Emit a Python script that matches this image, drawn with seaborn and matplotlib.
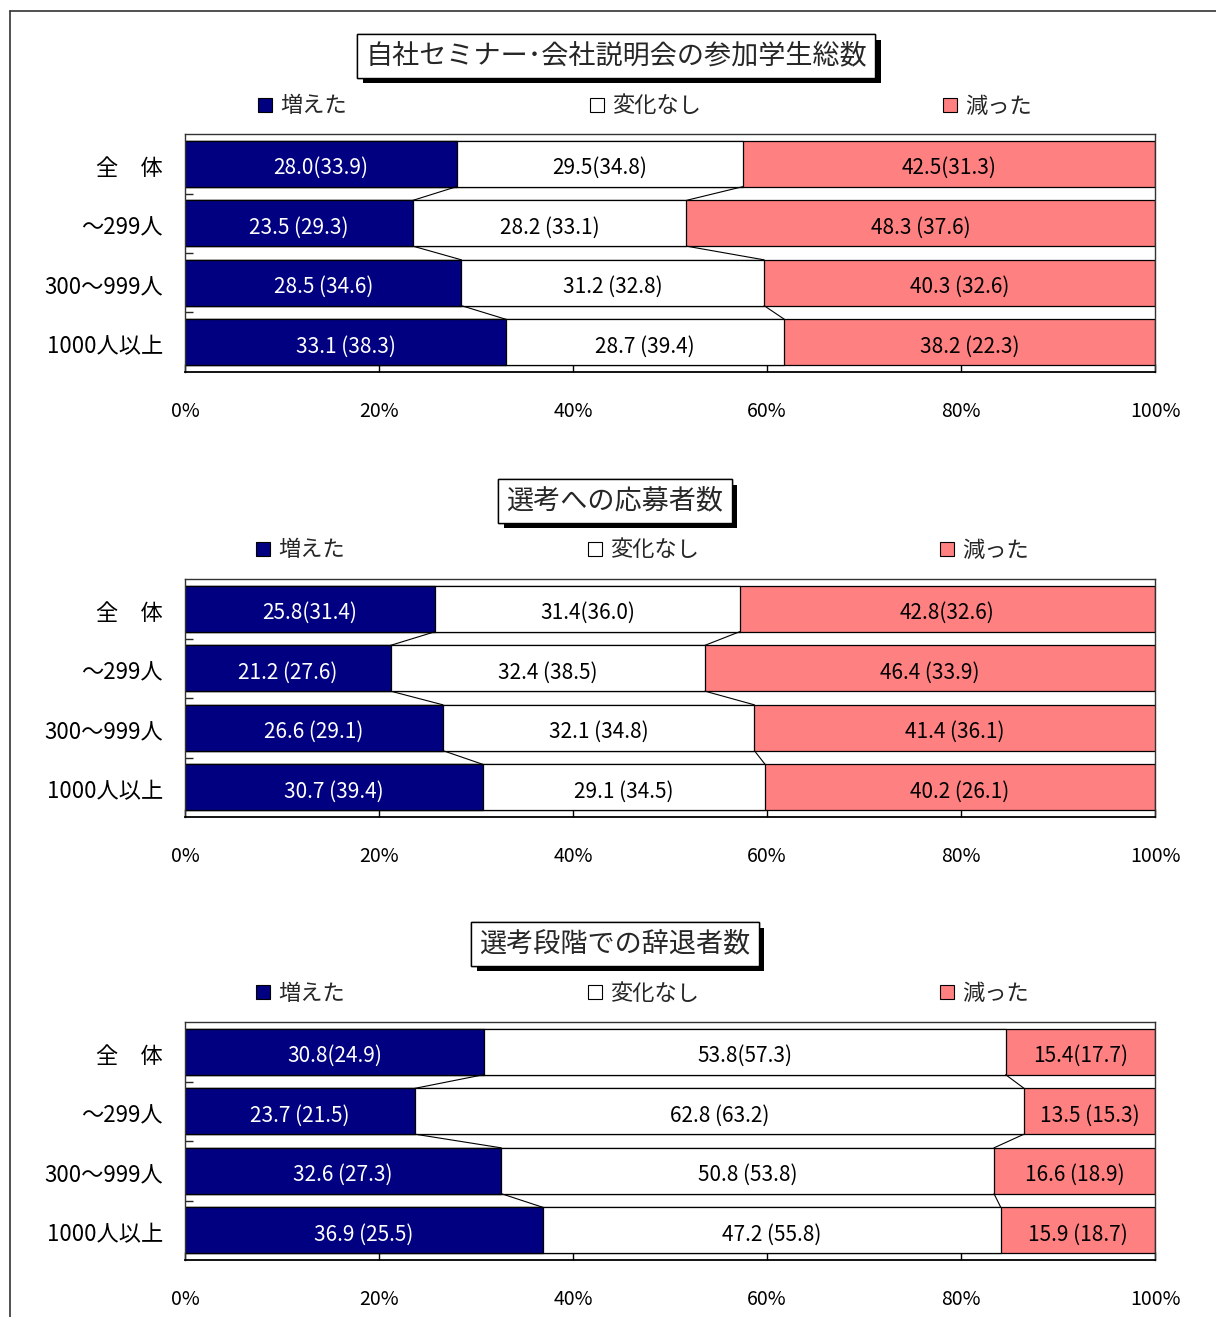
import matplotlib
matplotlib.use("Agg")
import matplotlib.pyplot as plt
import matplotlib.patheffects as pe
from matplotlib.lines import Line2D
from matplotlib.patches import Rectangle
import numpy as np
import pandas as pd
import seaborn as sns

# ---------------------------------------------------------------------------
# Dados
# ---------------------------------------------------------------------------
CATEGORIES = ["全　体", "～299人", "300～999人", "1000人以上"]
SERIES = ["増えた", "変化なし", "減った"]
COLORS = ["#000080", "#FFFFFF", "#FF8080"]
TEXT_COLORS = ["white", "black", "black"]

TITLES = ["自社セミナー･会社説明会の参加学生総数", "選考への応募者数", "選考段階での辞退者数"]

seminar_up = [28.0, 23.5, 28.5, 33.1]
seminar_same = [29.5, 28.2, 31.2, 28.7]
seminar_down = [42.5, 48.3, 40.3, 38.2]
seminar_up_prev = [33.9, 29.3, 34.6, 38.3]
seminar_same_prev = [34.8, 33.1, 32.8, 39.4]
seminar_down_prev = [31.3, 37.6, 32.6, 22.3]

apply_up = [25.8, 21.2, 26.6, 30.7]
apply_same = [31.4, 32.4, 32.1, 29.1]
apply_down = [42.8, 46.4, 41.4, 40.2]
apply_up_prev = [31.4, 27.6, 29.1, 39.4]
apply_same_prev = [36.0, 38.5, 34.8, 34.5]
apply_down_prev = [32.6, 33.9, 36.1, 26.1]

decline_up = [30.8, 23.7, 32.6, 36.9]
decline_same = [53.8, 62.8, 50.8, 47.2]
decline_down = [15.4, 13.5, 16.6, 15.9]
decline_up_prev = [24.9, 21.5, 27.3, 25.5]
decline_same_prev = [57.3, 63.2, 53.8, 55.8]
decline_down_prev = [17.7, 15.3, 18.9, 18.7]

PANELS = [
    ([seminar_up, seminar_same, seminar_down],
     [seminar_up_prev, seminar_same_prev, seminar_down_prev]),
    ([apply_up, apply_same, apply_down],
     [apply_up_prev, apply_same_prev, apply_down_prev]),
    ([decline_up, decline_same, decline_down],
     [decline_up_prev, decline_same_prev, decline_down_prev]),
]

# ---------------------------------------------------------------------------
# Layout (pixels)
# ---------------------------------------------------------------------------
W, H = 1216, 1317
AX_LEFT, AX_RIGHT = 185, 1155
AX_TOPS = [134, 579, 1022]
AX_H = 238
TITLE_Y = [56, 501, 944]
TITLE_X = [616, 615, 615]
LEGEND_Y = [106, 550, 993]
LEGEND_X = [[258, 590, 943], [256, 588, 940], [256, 588, 940]]
BAR_W = 0.77

sns.set_theme(style="white")
plt.rcParams["font.family"] = ["Noto Sans CJK JP", "DejaVu Sans"]

fig = plt.figure(figsize=(W / 100, H / 100), dpi=100)


def fx(px):
    return px / W


def fy(py):
    return 1 - py / H


def draw_panel(idx, values, prev):
    top = AX_TOPS[idx]
    ax = fig.add_axes([fx(AX_LEFT), fy(top + AX_H), fx(AX_RIGHT - AX_LEFT), AX_H / H])

    vals = np.array(values)
    cum = np.cumsum(vals, axis=0)
    df = pd.DataFrame({"category": CATEGORIES,
                       "c1": cum[0], "c2": cum[1], "c3": cum[2]})

    # stacked bars: draw cumulative totals from the longest to the shortest
    for col, color in zip(["c3", "c2", "c1"], COLORS[::-1]):
        sns.barplot(data=df, x=col, y="category", order=CATEGORIES, orient="h",
                    color=color, saturation=1, edgecolor="black", linewidth=0.9,
                    width=BAR_W, errorbar=None, ax=ax)

    # series lines
    for k in range(2):
        for i in range(len(CATEGORIES) - 1):
            ax.plot([cum[k][i], cum[k][i + 1]],
                    [i + BAR_W / 2, i + 1 - BAR_W / 2],
                    color="black", linewidth=0.8)

    # labels
    starts = np.vstack([np.zeros(len(CATEGORIES)), cum[:-1]])
    for s in range(3):
        for i in range(len(CATEGORIES)):
            sep = "" if i == 0 else " "
            ax.text(starts[s][i] + vals[s][i] / 2, i + 0.07,
                    f"{vals[s][i]:.1f}{sep}({prev[s][i]:.1f})",
                    ha="center", va="center", fontsize=15, color=TEXT_COLORS[s])

    ax.set_xlim(0, 100)
    ax.set_ylim(len(CATEGORIES) - 0.5, -0.5)
    ax.set_xlabel("")
    ax.set_ylabel("")
    ax.set_xticks(range(0, 101, 20))
    ax.set_xticklabels([f"{t}%" for t in range(0, 101, 20)], fontsize=14)
    ax.set_yticks(np.arange(len(CATEGORIES)) + 0.04)
    ax.set_yticklabels(CATEGORIES, fontsize=16)
    ax.set_yticks([0.5, 1.5, 2.5], minor=True)
    ax.tick_params(axis="x", which="major", direction="in", length=6, width=1,
                   bottom=True, pad=21, colors="black")
    ax.tick_params(axis="y", which="major", length=0, pad=16, colors="black")
    ax.tick_params(axis="y", which="minor", direction="in", length=6, width=1, left=True)
    for sp in ax.spines.values():
        sp.set_visible(True)
        sp.set_color("#333333")
        sp.set_linewidth(1)
    ax.spines["bottom"].set_color("black")
    ax.spines["bottom"].set_linewidth(1.3)

    # title box with shadow
    t = fig.text(fx(TITLE_X[idx]), fy(TITLE_Y[idx]), TITLES[idx], fontsize=19.5,
                 ha="center", va="center",
                 bbox=dict(boxstyle="square,pad=0.3", facecolor="white",
                           edgecolor="black", linewidth=1))
    t.get_bbox_patch().set_path_effects(
        [pe.withSimplePatchShadow(offset=(4, -4), shadow_rgbFace="black", alpha=1),
         pe.Normal()])

    # legend
    for name, color, x in zip(SERIES, COLORS, LEGEND_X[idx]):
        ly = LEGEND_Y[idx]
        fig.add_artist(Rectangle((fx(x), fy(ly + 6)), 14 / W, 14 / H,
                                 facecolor=color, edgecolor="black", linewidth=0.8,
                                 transform=fig.transFigure))
        fig.text(fx(x + 22), fy(ly), name, fontsize=16, ha="left", va="center")


for i, (values, prev) in enumerate(PANELS):
    draw_panel(i, values, prev)

# outer frame
fig.add_artist(Line2D([fx(10), fx(10)], [fy(11), 0], color="#333333", linewidth=1.2))
fig.add_artist(Line2D([fx(10), 1], [fy(11), fy(11)], color="#333333", linewidth=1.2))

fig.savefig("out.png", dpi=100)
